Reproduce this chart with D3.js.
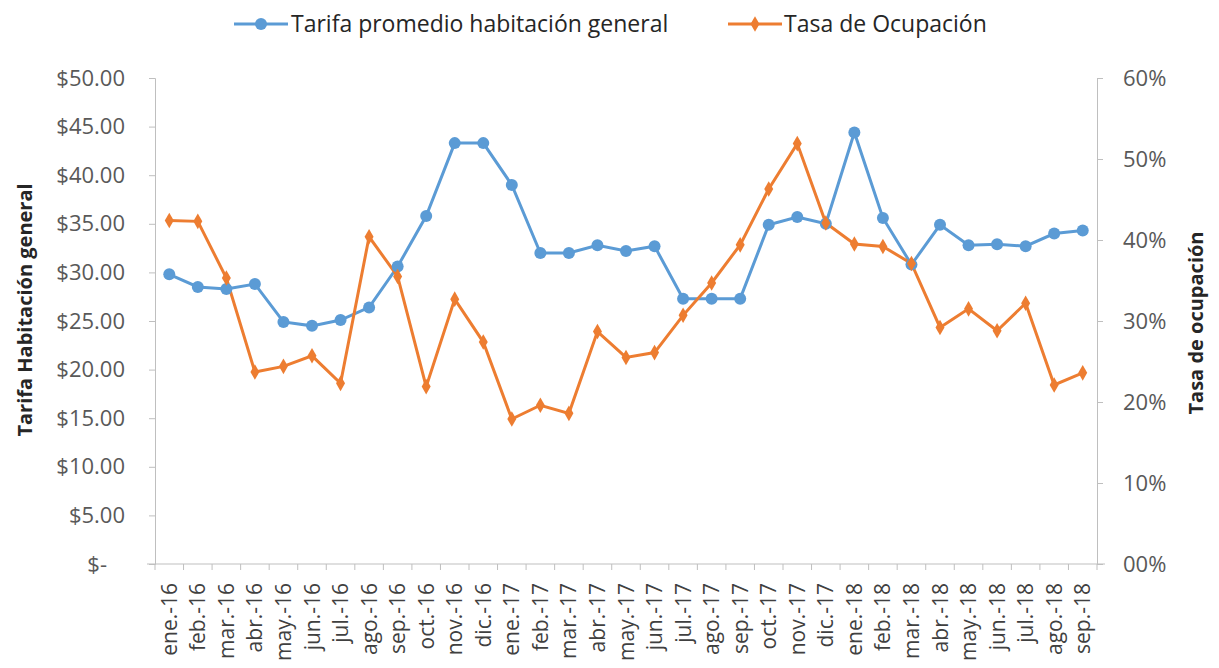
<!DOCTYPE html>
<html><head><meta charset="utf-8">
<script src="https://cdn.jsdelivr.net/npm/d3@7"></script>
<style>body{margin:0;background:#fff}svg{display:block}</style>
</head><body><svg id="c" width="1219" height="668"></svg>
<script>
const categories = ["ene.-16","feb.-16","mar.-16","abr.-16","may.-16","jun.-16","jul.-16","ago.-16","sep.-16","oct.-16","nov.-16","dic.-16",
"ene.-17","feb.-17","mar.-17","abr.-17","may.-17","jun.-17","jul.-17","ago.-17","sep.-17","oct.-17","nov.-17","dic.-17",
"ene.-18","feb.-18","mar.-18","abr.-18","may.-18","jun.-18","jul.-18","ago.-18","sep.-18"];
const tarifa = [29.8,28.5,28.3,28.8,24.9,24.5,25.1,26.4,30.6,35.8,43.3,43.3,39.0,32.0,32.0,32.8,32.2,32.7,27.3,27.3,27.3,34.9,35.7,35.0,44.4,35.6,30.8,34.9,32.8,32.9,32.7,34.0,34.3];
const ocupacion = [42.4,42.3,35.3,23.7,24.4,25.7,22.3,40.4,35.5,21.9,32.7,27.4,17.9,19.6,18.6,28.7,25.5,26.1,30.7,34.7,39.4,46.3,51.9,42.1,39.5,39.2,37.1,29.2,31.5,28.8,32.2,22.1,23.6];
const leftTicks = [0,5,10,15,20,25,30,35,40,45,50];
const rightTicks = [0,10,20,30,40,50,60];
const seriesNames = ["Tarifa promedio habitación general","Tasa de Ocupación"];
const axisTitles = ["Tarifa Habitación general","Tasa de ocupación"];

const FONT = "'Open Sans', sans-serif";
const blue = "#5B9BD5", orange = "#ED7D31", axisCol = "#bfbfbf", txt = "#595959";
const L = 155, R = 1097, T = 78, B = 564;
const svg = d3.select("#c");

const x = d3.scaleBand().domain(categories).range([L, R]);
const yL = d3.scaleLinear().domain([0,50]).range([B, T]);
const yR = d3.scaleLinear().domain([0,60]).range([B, T]);

// left axis
const gl = svg.append("g").attr("transform",`translate(${L},0)`)
  .call(d3.axisLeft(yL).tickValues(leftTicks).tickSize(6).tickPadding(24)
    .tickFormat(d => d === 0 ? "$-" : "$" + d3.format(".2f")(d)));
gl.selectAll("line,path").attr("stroke", axisCol);
gl.selectAll("text").attr("font-family",FONT).attr("font-size",22).attr("fill",txt);
gl.selectAll(".tick").filter(d=>d===0).select("text").attr("dx",-18);

// right axis
const gr = svg.append("g").attr("transform",`translate(${R},0)`)
  .call(d3.axisRight(yR).tickValues(rightTicks).tickSize(6).tickPadding(20)
    .tickFormat(d => d === 0 ? "00%" : d + "%"));
gr.selectAll("line,path").attr("stroke", axisCol);
gr.selectAll("text").attr("font-family",FONT).attr("font-size",22).attr("fill",txt);

// x axis
const gx = svg.append("g").attr("transform",`translate(0,${B})`)
  .call(d3.axisBottom(x).tickSize(0).tickPadding(0));
gx.select("path").attr("stroke", axisCol).attr("d", `M${L-8},0H${R+8}`);
gx.selectAll(".tick text").attr("font-family",FONT).attr("font-size",21).attr("fill","#404040")
  .attr("transform","rotate(-90)").attr("text-anchor","end").attr("x",-19).attr("y",0).attr("dy","0.36em");
// tick marks between categories
const bounds = categories.map(c => x(c)).concat([R]);
gx.selectAll("line.sep").data(bounds).enter().append("line").attr("class","sep")
  .attr("x1",d=>d).attr("x2",d=>d).attr("y1",0).attr("y2",6).attr("stroke",axisCol);

// lines
const cx = c => x(c) + x.bandwidth()/2;
const lineT = d3.line().x((d,i)=>cx(categories[i])).y(d=>yL(d));
const lineO = d3.line().x((d,i)=>cx(categories[i])).y(d=>yR(d));
svg.append("path").datum(tarifa).attr("d",lineT).attr("fill","none").attr("stroke",blue).attr("stroke-width",3);
svg.append("path").datum(ocupacion).attr("d",lineO).attr("fill","none").attr("stroke",orange).attr("stroke-width",3);
svg.selectAll("circle.t").data(tarifa).enter().append("circle").attr("class","t")
  .attr("cx",(d,i)=>cx(categories[i])).attr("cy",d=>yL(d)).attr("r",6).attr("fill",blue);
const diamond = d3.symbol().type(d3.symbolDiamond).size(70);
svg.selectAll("path.o").data(ocupacion).enter().append("path").attr("class","o")
  .attr("d",diamond).attr("transform",(d,i)=>`translate(${cx(categories[i])},${yR(d)})`).attr("fill",orange);

// axis titles
svg.append("text").attr("transform","translate(25,310) rotate(-90)").attr("text-anchor","middle").attr("dy","0.35em")
  .attr("font-family",FONT).attr("font-weight","bold").attr("font-size",20).attr("fill","#262626").text(axisTitles[0]);
svg.append("text").attr("transform","translate(1196,323) rotate(-90)").attr("text-anchor","middle").attr("dy","0.35em")
  .attr("font-family",FONT).attr("font-weight","bold").attr("font-size",20).attr("fill","#262626").text(axisTitles[1]);

// legend
const leg = [{name:seriesNames[0],c:blue,x1:234,tx:291,t:"c"},{name:seriesNames[1],c:orange,x1:728,tx:784,t:"d"}];
const lg = svg.append("g");
leg.forEach(l=>{
  lg.append("line").attr("x1",l.x1).attr("x2",l.x1+54).attr("y1",24).attr("y2",24).attr("stroke",l.c).attr("stroke-width",3);
  if(l.t==="c") lg.append("circle").attr("cx",l.x1+27).attr("cy",24).attr("r",6).attr("fill",l.c);
  else lg.append("path").attr("d",diamond).attr("transform",`translate(${l.x1+27},24)`).attr("fill",l.c);
  lg.append("text").attr("x",l.tx).attr("y",24).attr("dy","0.35em").attr("font-family",FONT).attr("font-size",23)
    .attr("fill","#262626").text(l.name);
});
</script></body></html>
